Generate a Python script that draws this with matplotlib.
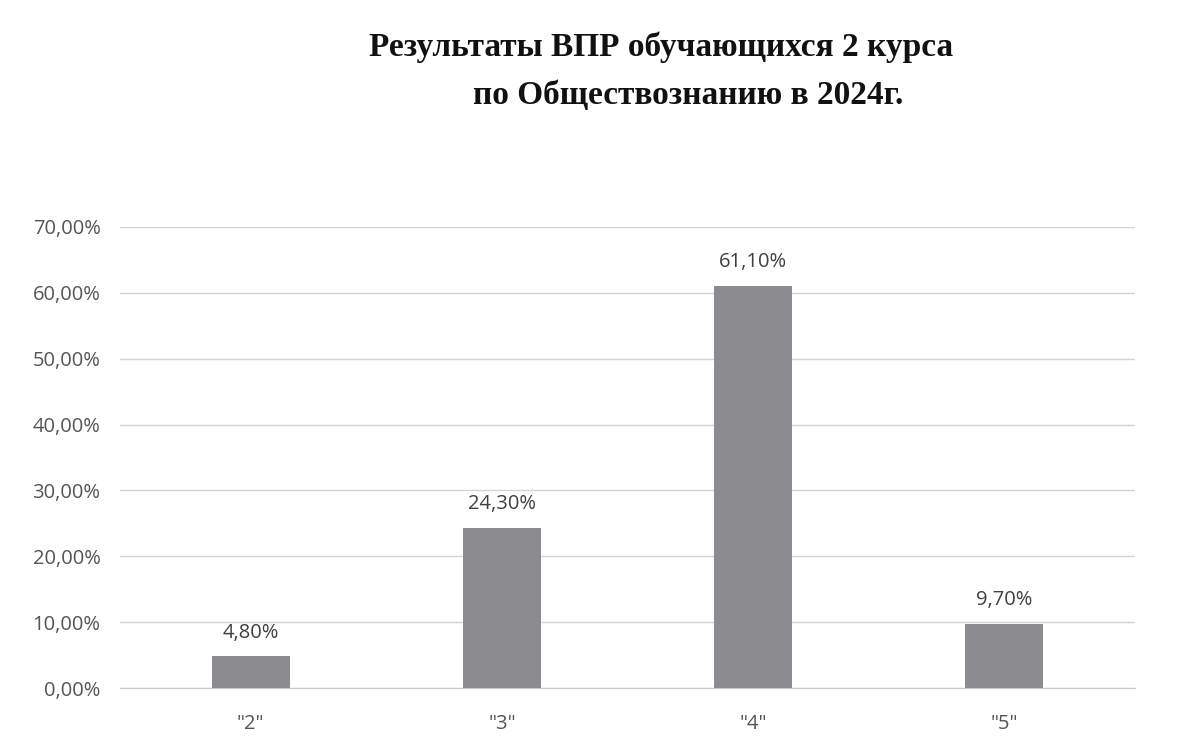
import matplotlib
matplotlib.use("Agg")
import matplotlib.pyplot as plt
from matplotlib.ticker import FuncFormatter

categories = ['"2"', '"3"', '"4"', '"5"']
values = [4.8, 24.3, 61.1, 9.7]
yticks = [0, 10, 20, 30, 40, 50, 60, 70]

fig = plt.figure(figsize=(11.83, 7.54), dpi=100)
ax = fig.add_axes([0.1014, 0.0875, 0.8580, 0.6115])

x = list(range(len(categories)))
ax.bar(x, values, width=0.31, color="#8b8b90", zorder=3)

ax.set_xlim(-0.52, 3.52)
ax.set_ylim(0, 70)
ax.set_yticks(yticks)
ax.yaxis.set_major_formatter(FuncFormatter(lambda v, p: f"{v:.2f}%".replace(".", ",")))
ax.set_xticks(x)
ax.set_xticklabels(categories)
ax.grid(axis="y", color="#d4d4d4", linewidth=1, zorder=0)
for s in ax.spines.values():
    s.set_visible(False)
ax.spines["bottom"].set_visible(True)
ax.spines["bottom"].set_color("#c8c8c8")
ax.tick_params(axis="both", length=0, labelsize=14.5, labelcolor="#555555")
ax.tick_params(axis="x", pad=19)
ax.tick_params(axis="y", pad=14)
for lbl in ax.get_xticklabels() + ax.get_yticklabels():
    lbl.set_family("Open Sans")

for xi, v in zip(x, values):
    ax.annotate(f"{v:.2f}%".replace(".", ","), (xi, v), xytext=(0, 10),
                textcoords="offset points", ha="center", va="bottom",
                fontsize=14.5, color="#404040", family="Open Sans")

fig.text(661 / 1183, 1 - 47 / 754, "Результаты ВПР обучающихся 2 курса",
         ha="center", va="center", fontsize=24, fontweight="bold",
         family="Liberation Serif", color="#111111")
fig.text(688 / 1183, 1 - 95 / 754, "по Обществознанию в 2024г.",
         ha="center", va="center", fontsize=24, fontweight="bold",
         family="Liberation Serif", color="#111111")

fig.savefig("out.png", dpi=100, facecolor="white")
